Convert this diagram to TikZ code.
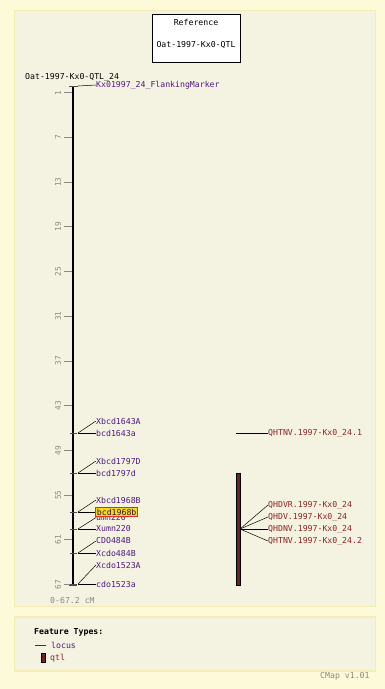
\documentclass[tikz,border=0pt]{standalone}
\usepackage{fontspec}
\newfontfamily\mono{DejaVu Sans Mono}
\definecolor{bgout}{HTML}{FCFAD8}
\definecolor{panel}{HTML}{F4F2E1}
\definecolor{panelborder}{HTML}{F1EDB4}
\definecolor{locuscol}{HTML}{4E1A80}
\definecolor{qtlcol}{HTML}{8B2525}
\definecolor{qtlfill}{HTML}{6A2424}
\definecolor{tickgray}{HTML}{8A8A80}
\definecolor{hlfill}{HTML}{F8D81A}
\definecolor{hldraw}{HTML}{E0301A}
\begin{document}
\begin{tikzpicture}[x=1pt,y=-1pt,
  txt/.style={font=\mono\fontsize{8.2}{9}\selectfont, inner sep=0pt, anchor=west},
  loc/.style={txt, text=locuscol},
  qlab/.style={txt, text=qtlcol},
  conn/.style={black, line width=0.5pt},
  scaletick/.style={tickgray, line width=0.8pt},
  scalelbl/.style={font=\mono\fontsize{7.8}{9}\selectfont, text=tickgray, inner sep=0pt, rotate=90},
  ltick/.style={black!70, line width=0.8pt},
  panelbox/.style={fill=panel, draw=panelborder, line width=1.5pt}]
\useasboundingbox (0,0) rectangle (385,689);
\fill[bgout] (0,0) rectangle (385,689);
\draw[panelbox] (14.5,10.5) rectangle (375.5,606.5);
\draw[panelbox] (14.5,617) rectangle (375.5,671);

% reference box
\node[draw=black, fill=white, line width=0.8pt, minimum width=88pt, minimum height=48pt, inner sep=0pt] (refbox) at (196,38) {};
\node[txt, anchor=center] (reft) at (196,22) {Reference};
\node[txt, anchor=center] (refn) at (196,45) {Oat-1997-Kx0-QTL};

% map title
\node[txt] (maptitle) at (25,77) {Oat-1997-Kx0-QTL\_24};

% scale ticks
\foreach \v in {1,7,13,19,25,31,37,43,49,55,61,67} {
  \draw[scaletick] (64,85.3+7.45*\v) -- (72,85.3+7.45*\v);
  \node[scalelbl] (s\v) at (58,85.3+7.45*\v) {\v};
}

% chromosome
\coordinate (ctop) at (73,86);
\coordinate (cbot) at (73,585);
\draw[black, line width=2.6pt] (ctop) -- (cbot);
\draw[ltick] (69,86) -- (78,86);
\draw[ltick] (69,585) -- (77,585);

% locus ticks and anchor points
\foreach \n/\y in {0/86,1/433,2/473,3/512,4/529,5/553,6/584} {
  \draw[ltick] (70,\y) -- (77,\y);
  \coordinate (c\n) at (78,\y);
}

% locus labels
\node[loc] (l0) at (96,85) {Kx01997\_24\_FlankingMarker};
\node[loc] (l1a) at (96,421) {Xbcd1643A};
\node[loc] (l1b) at (96,433) {bcd1643a};
\node[loc] (l2a) at (96,461) {Xbcd1797D};
\node[loc] (l2b) at (96,473) {bcd1797d};
\node[loc] (l3a) at (96,500) {Xbcd1968B};
\node[loc] (l4a) at (96,517.5) {umn220};
\node[loc] (l4b) at (96,529) {Xumn220};
\node[loc, fill=hlfill, draw=hldraw, line width=0.8pt, inner xsep=1.5pt, minimum height=8.5pt, text=locuscol!60!black] (l3b) at (95,512) {bcd1968b};
\node[loc] (l5a) at (96,541) {CDO484B};
\node[loc] (l5b) at (96,553) {Xcdo484B};
\node[loc] (l6a) at (96,565) {Xcdo1523A};
\node[loc] (l6b) at (96,584) {cdo1523a};

\draw[conn] (c0) -- (l0.west);
\draw[conn] (c1) -- (l1a.west);
\draw[conn] (c1) -- (l1b.west);
\draw[conn] (c2) -- (l2a.west);
\draw[conn] (c2) -- (l2b.west);
\draw[conn] (c3) -- (l3a.west);
\draw[conn] (c3) -- (l3b.west);
\draw[conn] (c4) -- (l4a.west);
\draw[conn] (c4) -- (l4b.west);
\draw[conn] (c5) -- (l5a.west);
\draw[conn] (c5) -- (l5b.west);
\draw[conn] (c6) -- (l6a.west);
\draw[conn] (c6) -- (l6b.west);

\node[txt, text=tickgray] (scale) at (50,601) {0-67.2 cM};

% QTLs
\coordinate (q1) at (236,433);
\node[qlab] (ql1) at (268,433) {QHTNV.1997-Kx0\_24.1};
\draw[conn] (q1) -- (ql1.west);
\node[draw=black, fill=qtlfill, line width=0.6pt, minimum width=4pt, minimum height=112pt, inner sep=0pt] (qbar) at (238,529) {};
\coordinate (qc) at (240,529);
\node[qlab] (qa) at (268,505) {QHDVR.1997-Kx0\_24};
\node[qlab] (qb) at (268,517) {QHDV.1997-Kx0\_24};
\node[qlab] (qd) at (268,529) {QHDNV.1997-Kx0\_24};
\node[qlab] (qe) at (268,541) {QHTNV.1997-Kx0\_24.2};
\foreach \t in {qa,qb,qd,qe} \draw[conn] (qc) -- (\t.west);

% legend
\node[txt, font=\mono\bfseries\fontsize{8.2}{9}\selectfont] (ft) at (34,632) {Feature Types:};
\coordinate (lg1) at (35,645);
\node[loc] (lglocus) at (51,645) {locus};
\draw[locuscol, line width=0.8pt] (lg1) -- (46,645);
\node[draw=black, fill=qtlfill, line width=0.6pt, minimum width=3.5pt, minimum height=9pt, inner sep=0pt] (lgq) at (43.5,657.5) {};
\node[qlab] (lgqtl) at (50,658) {qtl};

\node[txt, text=tickgray] (ver) at (320,676) {CMap v1.01};
\end{tikzpicture}
\end{document}
